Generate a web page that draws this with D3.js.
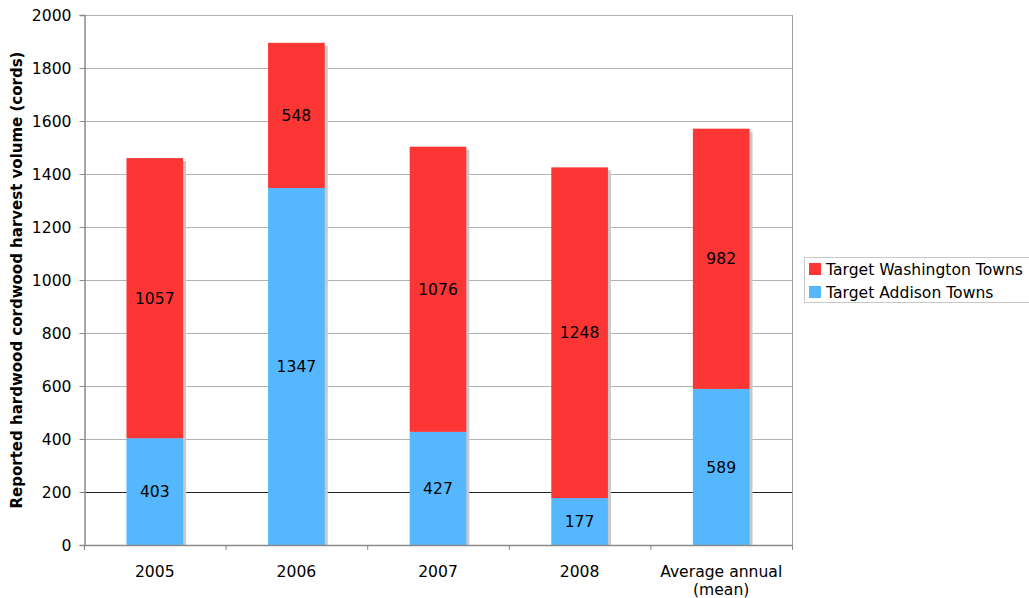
<!DOCTYPE html>
<html>
<head>
<meta charset="utf-8">
<script src="https://cdn.jsdelivr.net/npm/d3@7"></script>
<style>
  html, body { margin: 0; padding: 0; background: #fff; }
  svg { display: block; font-family: "DejaVu Sans", Verdana, sans-serif; }
</style>
</head>
<body>
<svg id="chart" width="1029" height="598"></svg>
<script>
// Harvest volumes by year (cords)
const categories = ["2005", "2006", "2007", "2008", "Average annual\n(mean)"];
const addison = [403, 1347, 427, 177, 589];
const washington = [1057, 548, 1076, 1248, 982];
const seriesNames = ["Target Washington Towns", "Target Addison Towns"];
const yTicks = [0, 200, 400, 600, 800, 1000, 1200, 1400, 1600, 1800, 2000];

const colors = { washington: "#fc3535", addison: "#55b8fe" };
const fs = 15.6;

const svg = d3.select("#chart");
const margin = { left: 84, right: 792, top: 15, bottom: 545 };

const x = d3.scaleBand().domain(categories).range([margin.left, margin.right]).paddingInner(0.6).paddingOuter(0.3);
const xEdges = d3.scalePoint().domain(d3.range(categories.length + 1)).range([margin.left, margin.right]);
const y = d3.scaleLinear().domain([0, 2000]).range([margin.bottom, margin.top]);

// gridlines
svg.append("g").selectAll("line").data(yTicks.filter(d => d > 0)).join("line")
  .attr("x1", margin.left).attr("x2", margin.right)
  .attr("y1", d => y(d) + 0.5).attr("y2", d => y(d) + 0.5)
  .attr("stroke", d => d === 200 ? "#222" : "#b3b3b3").attr("stroke-width", 1);

// right frame
svg.append("line").attr("x1", margin.right + 0.5).attr("x2", margin.right + 0.5)
  .attr("y1", margin.top).attr("y2", margin.bottom).attr("stroke", "#a0a0a0");

const stacked = categories.map((c, i) => ({
  cat: c,
  segs: [
    { key: "addison", v0: 0, v1: addison[i], val: addison[i] },
    { key: "washington", v0: addison[i], v1: addison[i] + washington[i], val: washington[i] }
  ]
}));

// bar shadows
svg.append("g").selectAll("rect").data(stacked).join("rect")
  .attr("x", d => x(d.cat) + 3)
  .attr("y", d => y(d.segs[1].v1) + 3)
  .attr("width", x.bandwidth())
  .attr("height", d => y(0) - y(d.segs[1].v1) - 3)
  .attr("fill", "#c8c8c8");

// bars
const groups = svg.append("g").selectAll("g").data(stacked).join("g");
groups.selectAll("rect").data(d => d.segs.map(s => ({ ...s, cat: d.cat }))).join("rect")
  .attr("x", d => x(d.cat))
  .attr("y", d => y(d.v1))
  .attr("width", x.bandwidth())
  .attr("height", d => y(d.v0) - y(d.v1))
  .attr("fill", d => colors[d.key]);

// value labels
groups.selectAll("text").data(d => d.segs.map(s => ({ ...s, cat: d.cat }))).join("text")
  .attr("x", d => x(d.cat) + x.bandwidth() / 2)
  .attr("y", d => y((d.v0 + d.v1) / 2))
  .attr("dy", "0.36em")
  .attr("text-anchor", "middle")
  .attr("font-size", fs)
  .attr("fill", "#000")
  .text(d => d.val);

// y axis
const yAxis = svg.append("g").attr("transform", `translate(${margin.left + 0.5},0)`)
  .call(d3.axisLeft(y).tickValues(yTicks).tickFormat(d3.format("d")).tickSize(5).tickPadding(8));
yAxis.select(".domain").attr("stroke", "#8a8a8a").attr("stroke-width", 1.5);
yAxis.selectAll(".tick line").attr("stroke", "#8a8a8a");
yAxis.selectAll("text").attr("font-size", fs).attr("fill", "#000").attr("font-family", "DejaVu Sans, Verdana, sans-serif");

// x axis baseline + ticks at category edges
svg.append("line").attr("x1", margin.left).attr("x2", margin.right)
  .attr("y1", margin.bottom + 0.5).attr("y2", margin.bottom + 0.5)
  .attr("stroke", "#8a8a8a").attr("stroke-width", 1.5);
svg.append("g").selectAll("line").data(d3.range(categories.length + 1)).join("line")
  .attr("x1", d => xEdges(d) + 0.5).attr("x2", d => xEdges(d) + 0.5)
  .attr("y1", margin.bottom).attr("y2", margin.bottom + 5)
  .attr("stroke", "#8a8a8a");

// x labels
svg.append("g").selectAll("text").data(categories).join("text")
  .attr("x", d => x(d) + x.bandwidth() / 2)
  .attr("y", 577)
  .attr("text-anchor", "middle")
  .attr("font-size", fs)
  .attr("fill", "#000")
  .each(function (d) {
    const lines = d.split("\n");
    d3.select(this).selectAll("tspan").data(lines).join("tspan")
      .attr("x", x(d) + x.bandwidth() / 2)
      .attr("dy", (l, i) => i === 0 ? 0 : 18)
      .text(l => l);
  });

// y axis title
svg.append("text")
  .attr("transform", `translate(22,${(margin.top + margin.bottom) / 2}) rotate(-90)`)
  .attr("text-anchor", "middle")
  .attr("font-size", 15)
  .attr("font-weight", "bold")
  .attr("fill", "#000")
  .text("Reported hardwood cordwood harvest volume (cords)");

// legend
const legend = svg.append("g");
legend.append("rect").attr("x", 804.5).attr("y", 257.5).attr("width", 230).attr("height", 45)
  .attr("fill", "#fff").attr("stroke", "#c8c8c8");
const legendItems = [
  { name: seriesNames[0], color: colors.washington },
  { name: seriesNames[1], color: colors.addison }
];
const li = legend.selectAll("g").data(legendItems).join("g")
  .attr("transform", (d, i) => `translate(809,${263 + i * 23})`);
li.append("rect").attr("width", 12).attr("height", 12).attr("fill", d => d.color);
li.append("text").attr("x", 17).attr("y", 6).attr("dy", "0.36em")
  .attr("font-size", fs).attr("fill", "#000").text(d => d.name);
</script>
</body>
</html>
